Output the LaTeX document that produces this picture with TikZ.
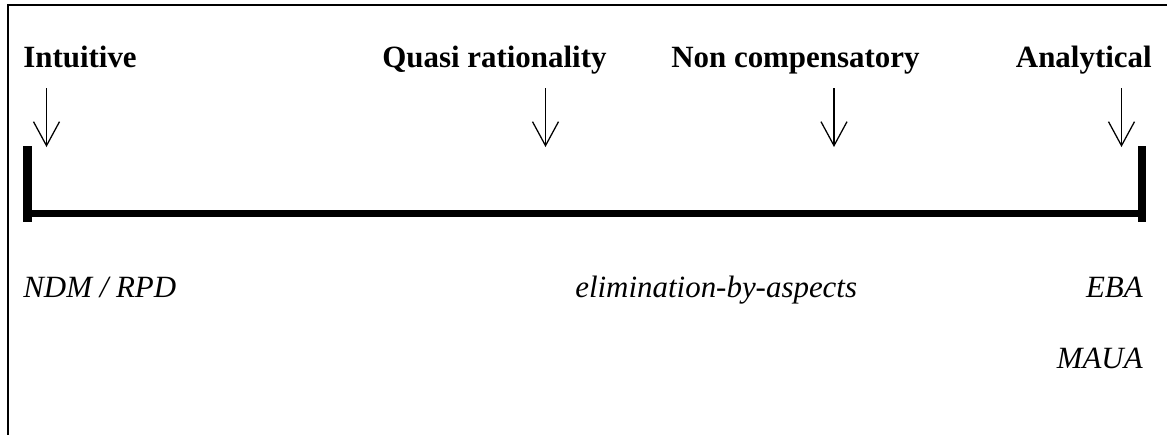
\documentclass[tikz,border=0pt]{standalone}
\usepackage{fontspec}
\setmainfont{Liberation Serif}
\usetikzlibrary{arrows.meta,positioning}
\begin{document}
\begin{tikzpicture}[x=0.025cm,y=-0.025cm,
	head/.style={font=\fontsize{22}{26}\selectfont\bfseries,inner sep=0pt},
	tool/.style={font=\fontsize{22}{26}\selectfont\itshape,inner sep=0pt},
	pointer/.style={-{Straight Barb[length=0.6cm,width=0.65cm]},line width=0.9pt},
	stop/.style={line width=5.7pt}]

	\useasboundingbox (0,0) rectangle (1167,435);
	\draw[line width=1.4pt] (8,435) -- (8,5) -- (1167,5);

	% the scale
	\coordinate (left) at (27.5,213.5);
	\coordinate (right) at (1141.5,213.5);
	\coordinate (lefttop) at (27.5,146);
	\coordinate (leftend) at (27.5,222);
	\coordinate (righttop) at (1141.5,146);
	\coordinate (rightend) at (1141.5,222);
	\draw[line width=4.3pt] (left) -- (right);
	\draw[stop] (lefttop) -- (leftend);
	\draw[stop] (righttop) -- (rightend);

	\node[head,anchor=base west] (intuitive) at (23,67) {Intuitive};
	\node[head,anchor=base west] (quasi) at (382,67) {Quasi rationality};
	\node[head,anchor=base west] (noncomp) at (671,67) {Non compensatory};
	\node[head,anchor=base east] (analytical) at (1152,67) {Analytical};

	\coordinate (p1) at (46.5,88);
	\coordinate (p2) at (545.5,88);
	\coordinate (p3) at (834,88);
	\coordinate (p4) at (1121.5,88);
	\draw[pointer] (p1) -- ++(0,59);
	\draw[pointer] (p2) -- ++(0,59);
	\draw[pointer] (p3) -- ++(0,59);
	\draw[pointer] (p4) -- ++(0,59);

	\node[tool,anchor=base west] (ndm) at (23,297) {NDM / RPD};
	\node[tool,anchor=base west] (eba) at (575,297) {elimination-by-aspects};
	\node[tool,anchor=base east] (ebashort) at (1143,297) {EBA};
	\node[tool,anchor=base east] (maua) [below=51pt of ebashort.base east,anchor=base east] {MAUA};

\end{tikzpicture}
\end{document}
